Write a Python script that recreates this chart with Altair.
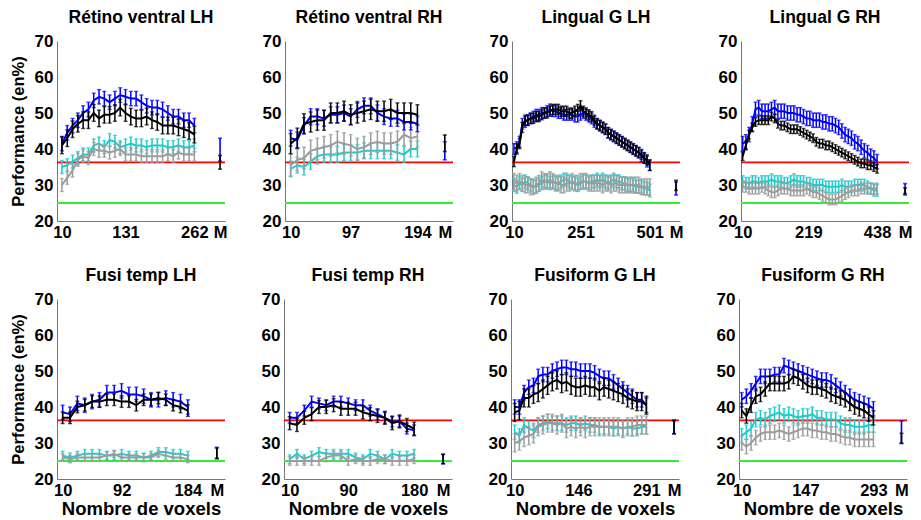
import altair as alt
import pandas as pd
import numpy as np

TITLES = ["Rétino ventral LH", "Rétino ventral RH", "Lingual G LH", "Lingual G RH",
          "Fusi temp LH", "Fusi temp RH", "Fusiform G LH", "Fusiform G RH"]
N_MAX = [262, 194, 501, 438, 184, 180, 291, 293]

# ---- Rétino ventral LH
P1_BLUE = [41.5, 44.5, 46.5, 48, 50, 51, 53.5, 54.5, 54, 53, 54, 55, 54.5, 54, 54, 53, 52, 51.5, 51.5, 51, 50, 49, 49, 48, 48, 46.5]
P1_BLACK = [41, 43, 45.5, 47, 48, 48, 50, 48.5, 49.5, 49.5, 50, 51.5, 50, 49, 48.5, 48.5, 49, 48, 47.5, 46.5, 46.5, 46.5, 46, 45.5, 45, 44]
P1_CYAN = [35, 35.5, 36.5, 37.5, 38.5, 38.5, 41, 41.5, 40.5, 42.5, 42, 40.5, 41, 41.5, 41, 41, 40.5, 41, 41, 41, 40.5, 40.5, 41, 40.5, 40.5, 41]
P1_GRAY = [30, 32, 34, 37, 38, 37.5, 40, 39.5, 39.5, 39, 39.5, 40, 38.5, 38.5, 38.5, 38, 38, 38, 38, 38, 38.5, 38, 39, 38.5, 38.5, 38.5]
P1_ERR = [2.0, 2.3, 1.8, 1.8]
P1_M = [(39.8, 3.2), (36.3, 1.9)]

# ---- Rétino ventral RH
P2_BLUE = [43, 42.5, 46.5, 49, 49, 48.5, 49.5, 49.5, 50, 49, 51, 52, 52, 50, 49, 48.5, 48.5, 47.5, 47.5, 47]
P2_BLACK = [41.5, 43, 47, 47.5, 48, 48, 50, 50, 50.5, 49.5, 50, 50.5, 51, 50.5, 50.5, 51, 50, 50, 50, 49.5]
P2_CYAN = [34.5, 35.5, 35, 36.5, 38, 38.5, 38.5, 38.5, 39, 39, 39, 39.5, 39.5, 39.5, 39.5, 39.5, 39, 38.5, 40, 40]
P2_GRAY = [35.5, 37, 37.5, 39.5, 40, 40.5, 41, 42, 41.5, 41, 40, 40.5, 41.5, 42, 41.5, 41.5, 42, 44, 43, 43.5]
P2_ERR = [2.2, 2.8, 2.2, 3.0]
P2_M = [(39.5, 2.5), (41.6, 2.3)]

# ---- Lingual G LH
P3_BLUE = [40, 40.5, 42, 47, 47.5, 48, 48.5, 49, 49.5, 49.5,
           50, 50, 50.5, 51, 50.5, 50.5, 50, 50, 49.5, 49.5,
           49.5, 49.5, 49, 49, 49.5, 50, 49.5, 49, 48.5, 47.5,
           47, 46.5, 46, 45.5, 44.5, 44, 43.5, 43, 42.5, 42,
           41.5, 41, 40.5, 40, 39.5, 39, 38, 37.5, 36.5, 35.5]
P3_BLACK = [36.5, 40, 41.5, 46, 48, 48, 48.5, 48.5, 49, 49,
            49.5, 50, 50, 50.5, 51, 51, 51, 50.5, 50.5, 50.5,
            50, 50, 50.5, 51, 52, 50.5, 50, 49.5, 49, 48,
            47, 46.5, 46, 45.5, 44.5, 44, 43.5, 43, 42.5, 42,
            41.5, 41, 40.5, 40, 39.5, 39, 38.5, 37.5, 37, 35.5]
P3_CYAN = [30, 29.5, 30.5, 30, 31, 30.5, 30, 29.5, 29.5, 30,
           30.5, 31, 31, 30.5, 31, 30.5, 30.5, 31, 31.5, 31.5,
           31, 30.5, 30.5, 30, 30.5, 31, 31, 30.5, 31, 31,
           31.5, 31, 31.5, 31, 30.5, 31, 31.5, 31, 31, 30.5,
           30.5, 30, 30, 30, 29.5, 29.5, 29.5, 29, 29, 28.5]
P3_GRAY = [31, 30.5, 31, 30.5, 30, 30, 29.5, 29.5, 30, 30.5,
           31.5, 31, 31, 31.5, 31, 30.5, 30.5, 30, 30, 30.5,
           30.5, 31, 30.5, 30.5, 31, 31, 31, 30.5, 30.5, 30.5,
           30.5, 30.5, 30, 30.5, 30.5, 30, 30.5, 30.5, 30, 30,
           30, 30, 30, 30, 30, 30, 29.5, 29.5, 29.5, 29.5]
P3_ERR = [1.5, 1.4, 1.8, 2.2]
P3_M = [(29.0, 1.8), (29.9, 1.4)]

# ---- Lingual G RH
P4_BLUE = [41.5, 42, 44, 47, 51, 51.5, 50.5, 50.5, 50.5, 51,
           51.5, 50.5, 50.5, 50.5, 50, 50, 50, 49.5, 49.5, 49,
           48.5, 48.5, 48, 48, 48, 47.5, 47.5, 47, 47, 46.5,
           46, 45, 44, 43.5, 43, 42, 41.5, 40.5, 39.5, 39,
           38, 37.5, 36.5]
P4_BLACK = [38, 41, 44, 46, 47.5, 48, 48, 48, 48, 49,
            48.5, 47, 46.5, 46.5, 46, 45.5, 45.5, 45.5, 45, 44.5,
            44, 43.5, 43, 42, 41.5, 41.5, 41, 41, 40.5, 40,
            39.5, 39, 38.5, 38, 37.5, 37, 36.5, 36, 36, 35.5,
            35.5, 35, 34.5]
P4_CYAN = [31, 30.5, 30.5, 31, 31, 30.5, 31, 31, 31, 31.5,
           31, 31, 31, 30.5, 30.5, 31, 31.5, 31, 31, 31,
           30.5, 30.5, 30, 30, 30, 30, 29.5, 29.5, 29.5, 29.5,
           29.5, 30, 29.5, 29.5, 29.5, 30, 30, 30, 30, 29.5,
           29, 28.5, 28.5]
P4_GRAY = [29.5, 29.5, 29, 29, 29, 29, 29.5, 29, 28.5, 28,
           28, 28.5, 29, 29, 29, 28.5, 28.5, 28.5, 28.5, 28.5,
           29, 28.5, 28, 28, 27.5, 27, 26.5, 26, 26, 26,
           26.5, 27, 27.5, 28, 28.5, 28.5, 28.5, 29, 29, 29,
           29, 29, 29]
P4_ERR = [2.0, 1.2, 1.6, 1.5]
P4_M = [(28.8, 1.6), (28.4, 0.8)]

# ---- Fusi temp LH
P5_BLUE = [38.5, 38, 41, 40.5, 41.5, 42, 44, 44, 44.5, 43.5, 43.5, 43, 42, 42, 42.5, 42, 41.5, 40]
P5_BLACK = [37, 37, 40, 40.5, 41.5, 41.5, 42, 42, 41.5, 41.5, 40.5, 42, 42, 42.5, 42, 40.5, 40, 39]
P5_CYAN = [26.5, 26, 26.5, 27, 27, 27, 26.5, 26.5, 27, 26.5, 26.5, 26, 26.5, 27.5, 27.5, 27, 27, 26.5]
P5_GRAY = [26, 25.5, 26, 26, 26, 26, 26.5, 27, 26, 26, 26, 26, 26, 27, 26.5, 26, 26, 25.5]
P5_ERR = [2.0, 1.6, 1.2, 1.0]
P5_M = [(27.3, 1.5), (27.1, 1.5)]

# ---- Fusi temp RH
P6_BLUE = [37, 37, 39, 41.5, 41, 40.5, 41.5, 41.5, 41, 40.5, 40.5, 39, 38, 37, 36, 36, 34, 33.5]
P6_BLACK = [35.5, 35, 37, 38, 40, 40, 40.5, 39.5, 39.5, 39.5, 38.5, 38, 37.5, 37, 35.5, 36, 35, 34]
P6_CYAN = [25.5, 27, 25.5, 26.5, 27.5, 27, 27, 27, 27, 26, 25.5, 27, 26.5, 25.5, 27, 26.5, 26.5, 27]
P6_GRAY = [25, 25, 25, 25, 25, 26, 26.5, 26.5, 25, 25.5, 25, 25, 25.5, 25.5, 25, 25, 25, 25.5]
P6_ERR = [1.5, 1.8, 1.2, 1.2]
P6_M = [(25.5, 1.3), (25.6, 1.3)]

# ---- Fusiform G LH
P7_BLUE = [40, 40, 44, 45.5, 46, 48.5, 49, 49, 50, 50.5, 51, 51, 50.5, 50.5, 50, 50, 50, 49.5, 48.5, 48, 48, 47, 46, 45, 44, 43, 42, 42, 40.5]
P7_BLACK = [38.5, 39, 42.5, 42.5, 43.5, 44, 45, 46, 47, 47.5, 46.5, 47, 46, 45.5, 45.5, 46, 45.5, 45.5, 44.5, 45.5, 45, 44.5, 44, 43.5, 42.5, 42, 41.5, 41.5, 40.5]
P7_CYAN = [33, 32, 35, 34, 33.5, 35, 35.5, 36, 35.5, 35.5, 35.5, 35, 35.5, 35.5, 35, 35.5, 35, 35, 34.5, 34.5, 34.5, 34, 34.5, 34, 34.5, 34, 34, 34.5, 34.5]
P7_GRAY = [30, 30.5, 31.5, 32, 32.5, 34.5, 35, 35.5, 35.5, 35, 35.5, 34, 34.5, 34, 34.5, 34, 34.5, 34.5, 34.5, 34.5, 34.5, 34.5, 34.5, 34, 34.5, 34.5, 35, 35, 35]
P7_ERR = [2.0, 2.5, 2.0, 2.5]
P7_M = [(34.3, 1.8), (34.5, 1.9)]

# ---- Fusiform G RH
P8_BLUE = [42, 43, 44.5, 46.5, 48.5, 48.5, 48.5, 49, 49, 51.5, 51, 50.5, 50, 49.5, 49, 48.5, 48, 47.5, 47.5, 47, 46, 45, 44, 43, 42, 41.5, 41, 40.5, 39.5]
P8_BLACK = [39, 37.5, 40.5, 43, 43.5, 45, 46.5, 46.5, 46.5, 46.5, 47, 48.5, 48, 47, 46, 45.5, 45.5, 45, 44.5, 43.5, 43, 42.5, 42, 41, 40, 39.5, 39, 38, 37]
P8_CYAN = [32, 33, 34, 36.5, 37, 36.5, 37.5, 38, 38.5, 37.5, 38, 37.5, 37, 37.5, 37.5, 38, 37, 37, 36.5, 36.5, 36.5, 35.5, 35, 35, 34.5, 34.5, 34.5, 35, 35]
P8_GRAY = [30, 29, 30, 31.5, 32.5, 33, 33, 33, 33.5, 33, 32.5, 33, 33.5, 34, 34, 33.5, 33.5, 33, 33, 32.5, 32.5, 32, 31.5, 31.5, 31, 31, 31, 31, 31]
P8_ERR = [2.0, 2.0, 2.0, 2.0]
P8_M = [(33.0, 3.1), (31.3, 1.4)]

CHANCE = 36.3
BASELINE = 25

PANELS = [
    (P1_BLUE, P1_BLACK, P1_CYAN, P1_GRAY, P1_ERR, P1_M),
    (P2_BLUE, P2_BLACK, P2_CYAN, P2_GRAY, P2_ERR, P2_M),
    (P3_BLUE, P3_BLACK, P3_CYAN, P3_GRAY, P3_ERR, P3_M),
    (P4_BLUE, P4_BLACK, P4_CYAN, P4_GRAY, P4_ERR, P4_M),
    (P5_BLUE, P5_BLACK, P5_CYAN, P5_GRAY, P5_ERR, P5_M),
    (P6_BLUE, P6_BLACK, P6_CYAN, P6_GRAY, P6_ERR, P6_M),
    (P7_BLUE, P7_BLACK, P7_CYAN, P7_GRAY, P7_ERR, P7_M),
    (P8_BLUE, P8_BLACK, P8_CYAN, P8_GRAY, P8_ERR, P8_M),
]

# layout: pixel offsets (from the y axis, for a 170 px wide panel) of the "10" tick, last tick and "M" tick
AX_OFFSETS = [(5, 139, 165), (5.7, 134, 161.7), (2, 139.4, 166), (1.7, 137.7, 166),
              (5.7, 132.4, 161.7), (5.7, 131.7, 161), (3.7, 137, 165), (2.7, 136, 164.4)]

W, H = 168, 180
COLORS = {"blue": "#0000FF", "black": "#000000", "cyan": "#1FCACA", "gray": "#9C9C9C"}
DRAW_ORDER = ["cyan", "gray", "blue", "black"]
FONT = "Liberation Sans"


def panel(k):
    blue, black, cyan, gray, errs, mvals = PANELS[k]
    row, col = divmod(k, 4)
    nmax = N_MAX[k]
    o10, omax, om = [v * W / 170 for v in AX_OFFSETS[k]]
    s = (omax - o10) / (nmax - 10)
    lo = 10 - o10 / s
    hi = 10 + (W - o10) / s
    mpos = 10 + (om - o10) / s
    mid = int(nmax / 2 + 0.5)

    xscale = alt.Scale(domain=[lo, hi], nice=False, zero=False)
    yscale = alt.Scale(domain=[20, 70], nice=False, zero=False)
    xaxis = alt.Axis(values=[10, mid, nmax, mpos],
                     labelExpr=f"datum.value > {nmax + 1} ? 'M' : format(datum.value, 'd')",
                     title="Nombre de voxels" if row == 1 else None,
                     labelFlush=False, labelOverlap=False)
    yaxis = alt.Axis(values=[20, 30, 40, 50, 60, 70],
                     title="Performance (en%)" if col == 0 else None,
                     labelOverlap=False)
    X = alt.X("x:Q", scale=xscale, axis=xaxis)
    Y = alt.Y("y:Q", scale=yscale, axis=yaxis)
    YLO = alt.Y("lo:Q", scale=yscale, axis=yaxis)
    YHI = alt.Y("hi:Q", scale=yscale, axis=yaxis)

    series = {"blue": blue, "black": black, "cyan": cyan, "gray": gray}
    err_of = dict(zip(["blue", "black", "cyan", "gray"], errs))

    layers = []
    hl = pd.DataFrame({"y": [CHANCE, BASELINE], "c": ["red", "green"]})
    layers.append(alt.Chart(hl).mark_rule(strokeWidth=1.8).encode(
        y=Y, color=alt.Color("c:N", scale=alt.Scale(domain=["red", "green"], range=["#FF0000", "#33EE33"]), legend=None)))

    for name in DRAW_ORDER:
        vals = series[name]
        xs = np.linspace(10, nmax, len(vals))
        e = err_of[name]
        df = pd.DataFrame({"x": xs, "y": vals})
        df["lo"] = df["y"] - e
        df["hi"] = df["y"] + e
        c = COLORS[name]
        base = alt.Chart(df)
        layers.append(base.mark_rule(color=c, strokeWidth=1.5).encode(x=X, y=YLO, y2="hi:Q"))
        layers.append(base.mark_tick(color=c, orient="horizontal", size=4, thickness=1.4).encode(x=X, y=YLO))
        layers.append(base.mark_tick(color=c, orient="horizontal", size=4, thickness=1.4).encode(x=X, y=YHI))
        layers.append(base.mark_line(color=c, strokeWidth=2).encode(x=X, y=Y))

    for (mv, me), name in zip(mvals, ["blue", "black"]):
        c = COLORS[name]
        dm = pd.DataFrame({"x": [mpos], "y": [mv], "lo": [mv - me], "hi": [mv + me]})
        base = alt.Chart(dm)
        layers.append(base.mark_rule(color=c, strokeWidth=1.6).encode(x=X, y=YLO, y2="hi:Q"))
        layers.append(base.mark_tick(color=c, orient="horizontal", size=4, thickness=1.6).encode(x=X, y=YLO))
        layers.append(base.mark_tick(color=c, orient="horizontal", size=4, thickness=1.6).encode(x=X, y=YHI))

    return alt.layer(*layers).properties(
        width=W, height=H,
        title=alt.TitleParams(TITLES[k], fontSize=17.5, fontWeight="bold", font=FONT,
                              color="black", offset=6, frame="group", anchor="middle"))


rows = []
for r in range(2):
    rows.append(alt.hconcat(*[panel(r * 4 + c) for c in range(4)], spacing=35))

chart = alt.vconcat(*rows, spacing=25).properties(
    padding={"left": 2, "top": 0, "right": 0, "bottom": 0}
).configure_view(stroke=None).configure_axis(
    grid=False, ticks=False, domainColor="#777777", domainWidth=1,
    labelFont=FONT, labelFontWeight="bold", labelColor="black",
    titleFont=FONT, titleFontWeight="bold", titleColor="black",
).configure_axisX(labelFontSize=16.5, labelPadding=3, titlePadding=1, titleFontSize=18.5
).configure_axisY(labelFontSize=17, labelPadding=4, titlePadding=8, titleFontSize=16.5)

chart.save("out.html", embed_options={"renderer": "svg", "actions": False})
